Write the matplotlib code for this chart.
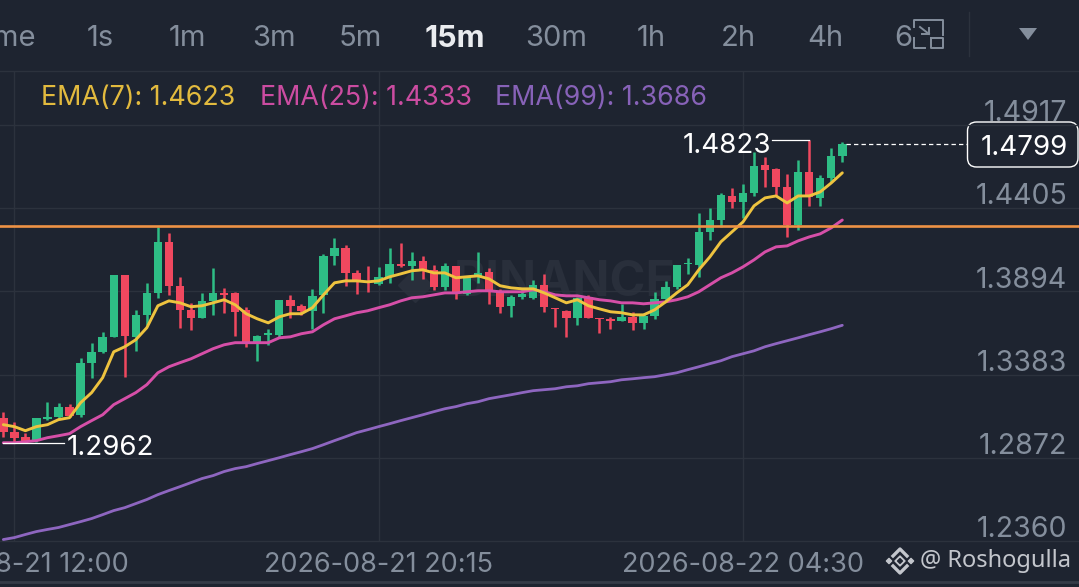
import numpy as np
import matplotlib
matplotlib.use('Agg')
import matplotlib.pyplot as plt
from matplotlib.patches import FancyBboxPatch, Polygon

plt.rcParams['font.family'] = ['Inter', 'DejaVu Sans']

opens = [1.3118, 1.3032, 1.3001, 1.2983, 1.3112, 1.3124, 1.3186, 1.3136, 1.3456, 1.3523,
         1.3615, 1.3996, 1.3615, 1.3750, 1.3885, 1.4199, 1.3929, 1.3781, 1.3732, 1.3836,
         1.3885, 1.3885, 1.3781, 1.3585, 1.3628, 1.3628, 1.3843, 1.3806, 1.3775, 1.3873,
         1.4113, 1.4162, 1.4008, 1.3959, 1.3941, 1.3984, 1.4064, 1.4051, 1.4082, 1.4027,
         1.3923, 1.4051, 1.3879, 1.3984, 1.4014, 1.3898, 1.3806, 1.3861, 1.3855, 1.3935,
         1.3794, 1.3775, 1.3732, 1.3861, 1.3732, 1.3726, 1.3714, 1.3738, 1.3701, 1.3744,
         1.3849, 1.3923, 1.4064, 1.4057, 1.4260, 1.4334, 1.4481, 1.4444, 1.4500, 1.4671,
         1.4647, 1.4536, 1.4303, 1.4628, 1.4469, 1.4592, 1.4727]
highs = [1.3155, 1.3094, 1.3026, 1.3118, 1.3216, 1.3210, 1.3204, 1.3486, 1.3579, 1.3646,
         1.3996, 1.3996, 1.3781, 1.3947, 1.4291, 1.4254, 1.3984, 1.3824, 1.3885, 1.4039,
         1.3916, 1.3892, 1.3800, 1.3628, 1.3665, 1.3843, 1.3873, 1.3818, 1.3910, 1.4125,
         1.4223, 1.4180, 1.4027, 1.4051, 1.4045, 1.4162, 1.4192, 1.4137, 1.4113, 1.4057,
         1.4070, 1.4051, 1.3984, 1.4137, 1.4039, 1.3910, 1.3873, 1.3916, 1.3965, 1.4002,
         1.3794, 1.3781, 1.3861, 1.3873, 1.3732, 1.3738, 1.3818, 1.3769, 1.3763, 1.3892,
         1.3959, 1.4057, 1.4101, 1.4377, 1.4407, 1.4500, 1.4530, 1.4555, 1.4751, 1.4721,
         1.4653, 1.4616, 1.4702, 1.4823, 1.4610, 1.4776, 1.4813]
lows = [1.3001, 1.2962, 1.2970, 1.2970, 1.3106, 1.3112, 1.3124, 1.3124, 1.3364, 1.3517,
        1.3615, 1.3370, 1.3529, 1.3689, 1.3855, 1.3873, 1.3671, 1.3658, 1.3732, 1.3750,
        1.3763, 1.3621, 1.3554, 1.3468, 1.3566, 1.3609, 1.3732, 1.3750, 1.3665, 1.3763,
        1.4057, 1.3929, 1.3879, 1.3892, 1.3935, 1.3947, 1.4045, 1.3965, 1.3971, 1.3904,
        1.3904, 1.3849, 1.3873, 1.3947, 1.3818, 1.3763, 1.3738, 1.3849, 1.3849, 1.3769,
        1.3677, 1.3615, 1.3689, 1.3732, 1.3640, 1.3665, 1.3714, 1.3658, 1.3665, 1.3726,
        1.3830, 1.3910, 1.4002, 1.3984, 1.4211, 1.4291, 1.4407, 1.4346, 1.4481, 1.4536,
        1.4487, 1.4229, 1.4272, 1.4420, 1.4420, 1.4567, 1.4690]
closes = [1.3032, 1.2995, 1.2977, 1.3118, 1.3124, 1.3186, 1.3130, 1.3456, 1.3523, 1.3615,
          1.3996, 1.3621, 1.3750, 1.3885, 1.4199, 1.3929, 1.3781, 1.3732, 1.3836, 1.3885,
          1.3873, 1.3769, 1.3579, 1.3621, 1.3640, 1.3843, 1.3806, 1.3775, 1.3867, 1.4113,
          1.4162, 1.4008, 1.3959, 1.3953, 1.3984, 1.4064, 1.4051, 1.4082, 1.4027, 1.3923,
          1.4051, 1.3879, 1.3984, 1.4008, 1.3898, 1.3800, 1.3861, 1.3879, 1.3935, 1.3800,
          1.3787, 1.3732, 1.3855, 1.3732, 1.3726, 1.3714, 1.3738, 1.3701, 1.3744, 1.3849,
          1.3923, 1.4057, 1.4070, 1.4260, 1.4334, 1.4487, 1.4444, 1.4500, 1.4665, 1.4641,
          1.4536, 1.4303, 1.4628, 1.4475, 1.4592, 1.4727, 1.4799]

ema7 = [1.3075, 1.3063, 1.3038, 1.3063, 1.3075, 1.3106, 1.3118, 1.3210, 1.3272, 1.3364,
        1.3523, 1.3554, 1.3597, 1.3671, 1.3806, 1.3836, 1.3824, 1.3800, 1.3806, 1.3824,
        1.3843, 1.3812, 1.3757, 1.3726, 1.3701, 1.3738, 1.3757, 1.3757, 1.3794, 1.3873,
        1.3947, 1.3959, 1.3959, 1.3953, 1.3959, 1.3984, 1.4002, 1.4021, 1.4027, 1.4008,
        1.4008, 1.3978, 1.3984, 1.3990, 1.3971, 1.3929, 1.3916, 1.3910, 1.3910, 1.3885,
        1.3855, 1.3824, 1.3843, 1.3806, 1.3787, 1.3769, 1.3763, 1.3750, 1.3750, 1.3781,
        1.3830, 1.3885, 1.3935, 1.4027, 1.4106, 1.4199, 1.4260, 1.4321, 1.4420, 1.4469,
        1.4481, 1.4438, 1.4481, 1.4481, 1.4506, 1.4561, 1.4623]
ema25 = [1.2964, 1.2964, 1.2970, 1.2977, 1.2995, 1.3007, 1.3020, 1.3063, 1.3100, 1.3136,
         1.3198, 1.3235, 1.3272, 1.3321, 1.3394, 1.3431, 1.3456, 1.3480, 1.3511, 1.3542,
         1.3566, 1.3579, 1.3579, 1.3579, 1.3579, 1.3609, 1.3615, 1.3634, 1.3646, 1.3689,
         1.3726, 1.3744, 1.3763, 1.3775, 1.3794, 1.3812, 1.3836, 1.3855, 1.3861, 1.3873,
         1.3885, 1.3885, 1.3892, 1.3898, 1.3898, 1.3892, 1.3892, 1.3892, 1.3904, 1.3892,
         1.3873, 1.3867, 1.3867, 1.3855, 1.3843, 1.3836, 1.3824, 1.3824, 1.3818, 1.3824,
         1.3830, 1.3843, 1.3861, 1.3892, 1.3935, 1.3978, 1.4008, 1.4045, 1.4088, 1.4137,
         1.4168, 1.4174, 1.4205, 1.4229, 1.4248, 1.4285, 1.4333]
ema99 = [1.2369, 1.2381, 1.2400, 1.2418, 1.2431, 1.2443, 1.2461, 1.2479, 1.2498, 1.2522,
         1.2547, 1.2565, 1.2590, 1.2615, 1.2645, 1.2670, 1.2694, 1.2719, 1.2744, 1.2762,
         1.2787, 1.2805, 1.2817, 1.2836, 1.2854, 1.2872, 1.2891, 1.2909, 1.2928, 1.2952,
         1.2977, 1.3001, 1.3026, 1.3044, 1.3063, 1.3081, 1.3100, 1.3118, 1.3136, 1.3155,
         1.3173, 1.3186, 1.3204, 1.3216, 1.3235, 1.3247, 1.3259, 1.3272, 1.3284, 1.3290,
         1.3296, 1.3308, 1.3314, 1.3327, 1.3333, 1.3339, 1.3351, 1.3357, 1.3364, 1.3370,
         1.3382, 1.3394, 1.3413, 1.3431, 1.3450, 1.3468, 1.3493, 1.3511, 1.3529, 1.3554,
         1.3573, 1.3591, 1.3609, 1.3628, 1.3646, 1.3665, 1.3686]

price_ticks = [1.4917, 1.4405, 1.3894, 1.3383, 1.2872, 1.2360]
time_idx = [1, 34, 67]
time_labels = ['2026-08-21 12:00', '2026-08-21 20:15', '2026-08-22 04:30']
tabs = ['1s', '1m', '3m', '5m', '15m', '30m', '1h', '2h', '4h']
tab_x = [100, 187, 274, 360, 455, 556, 651, 738, 825]
support = 1.4297
high_idx, high_val = 73, 1.4823
low_idx, low_val = 1, 1.2962
last_val = 1.4799

bg = '#1e2430'
grid_c = '#2c323d'
grey = '#848e9c'
green = '#2ebd85'
red = '#f0485f'
yellow = '#eec33f'
pink = '#d64fa8'
purple = '#8e66c0'
orange = '#ee9245'
fs = 20

fig = plt.figure(figsize=(10.79, 5.87), dpi=100, facecolor=bg)

# page furniture is drawn in pixels
top = fig.add_axes([0, 0, 1, 1], facecolor=bg)
top.set_xlim(0, 1079)
top.set_ylim(587, 0)
top.axis('off')

ax = fig.add_axes([0, 46 / 587, 1, 470 / 587], facecolor='none')
ax.set_xlim(-0.3, 97.44)
ax.set_ylim(1.2360, 1.5249)
ax.axis('off')

for p in price_ticks:
    ax.axhline(p, color=grid_c, lw=1, zorder=1, clip_on=False)
    ax.text(1 - 12 / 1079, p + 0.0070, '%.4f' % p, color=grey, fontsize=20.5, ha='right', va='center',
            transform=ax.get_yaxis_transform(), zorder=6)
for i, lab in zip(time_idx, time_labels):
    ax.axvline(i, color=grid_c, lw=1, zorder=1)
    top.text(3.3 + 11.04 * i, 565, lab, color=grey, fontsize=19.5, ha='center', va='center')

# watermark
top.text(565, 283, 'BINANCE', color='#292f3b', fontsize=35, fontweight='bold', ha='center', va='center', zorder=0)
top.plot([415], [285], marker='D', ms=17, color='#292f3b', zorder=0)

x = np.arange(len(opens))
colors = [green if c >= o else red for o, c in zip(opens, closes)]
ax.vlines(x, lows, highs, colors=colors, lw=1.8, zorder=3)
bottoms = [min(o, c) for o, c in zip(opens, closes)]
heights = [abs(o - c) for o, c in zip(opens, closes)]
ax.bar(x, heights, 0.76, bottom=bottoms, color=colors, zorder=3)

ax.plot(x, ema99, color=purple, lw=2, zorder=4, solid_capstyle='round')
ax.plot(x, ema25, color=pink, lw=2.1, zorder=4, solid_capstyle='round')
ax.plot(x, ema7, color=yellow, lw=2.1, zorder=4, solid_capstyle='round')
ax.axhline(support, color=orange, lw=1.9, zorder=5)

# high / low / last price callouts
ax.plot([high_idx - 3.35, high_idx], [high_val, high_val], color='white', lw=0.9, zorder=6)
ax.text(high_idx - 3.4, high_val - 0.0032, '%.4f' % high_val, color='white', fontsize=fs, ha='right', va='center', zorder=6)
ax.plot([low_idx - 1, low_idx + 4.5], [low_val, low_val], color='white', lw=0.9, zorder=6)
ax.text(low_idx + 4.7, low_val - 0.0030, '%.4f' % low_val, color='white', fontsize=fs, ha='left', va='center', zorder=6)
ax.plot([76.3, 87.3], [last_val, last_val], color='white', lw=0.9, ls=(0, (3.5, 2.5)), zorder=6)
top.add_patch(FancyBboxPatch((975, 122), 95, 45, boxstyle='round,pad=0,rounding_size=9', mutation_aspect=1,
                             fc=bg, ec='white', lw=1, zorder=7))
top.patches[-1].set_bounds(967.5, 122, 110.5, 45)
top.text(1024, 148, '%.4f' % last_val, color='white', fontsize=fs, ha='center', va='center', zorder=8)

# EMA legend
ema_items = [(41, 'EMA(7): 1.4623', yellow), (260, 'EMA(25): 1.4333', pink), (495, 'EMA(99): 1.3686', purple)]
for lx, s, c in ema_items:
    top.text(lx, 98, s, color=c, fontsize=19.3, ha='left', va='center', alpha=0.95)

# interval tabs
top.text(36, 39, 'Time', color=grey, fontsize=21, ha='right', va='center')
for tx, t in zip(tab_x, tabs):
    if t == '15m':
        top.text(tx, 39, t, color='#eaecef', fontsize=22, fontweight='bold', ha='center', va='center')
    else:
        top.text(tx, 39, t, color=grey, fontsize=21, ha='center', va='center')
top.text(894, 39, '6', color=grey, fontsize=21, ha='left', va='center')
top.plot([0, 1079], [71, 71], color=grid_c, lw=1)
top.plot([969, 969], [12, 56], color=grid_c, lw=1)
top.add_patch(Polygon([[1019, 28], [1037, 28], [1028, 40]], closed=True, fc=grey, ec='none'))

# expand icon
ic = '#848e9c'
top.plot([914, 914, 943, 943], [27, 20, 20, 35], color=ic, lw=1.4, zorder=5)
top.plot([914, 914, 925], [38, 48, 48], color=ic, lw=1.4, zorder=5)
top.plot([920, 929], [27, 34], color=ic, lw=1.4, zorder=5)
top.plot([929, 929, 922], [28, 34, 34], color=ic, lw=1.4, zorder=5)
top.plot([931, 943, 943, 931, 931], [38, 38, 48, 48, 38], color=ic, lw=1.4, zorder=5)

# footer
top.plot([0, 1079], [582, 582], color='#353b47', lw=2)
top.text(920, 561, '@ Roshogulla', color='#c3c6cc', fontsize=17, family=['Noto Sans', 'DejaVu Sans'], ha='left', va='center')
top.scatter([900, 900, 889, 911], [561, 561, 561, 561], marker='D', s=[26, 6, 7, 7], c=['#c3c6cc', bg, '#c3c6cc', '#c3c6cc'], zorder=6)
top.plot([893, 900, 907], [556, 549, 556], color='#c3c6cc', lw=2.4)
top.plot([893, 900, 907], [566, 573, 566], color='#c3c6cc', lw=2.4)

fig.savefig('out.png', dpi=100, facecolor=bg)
